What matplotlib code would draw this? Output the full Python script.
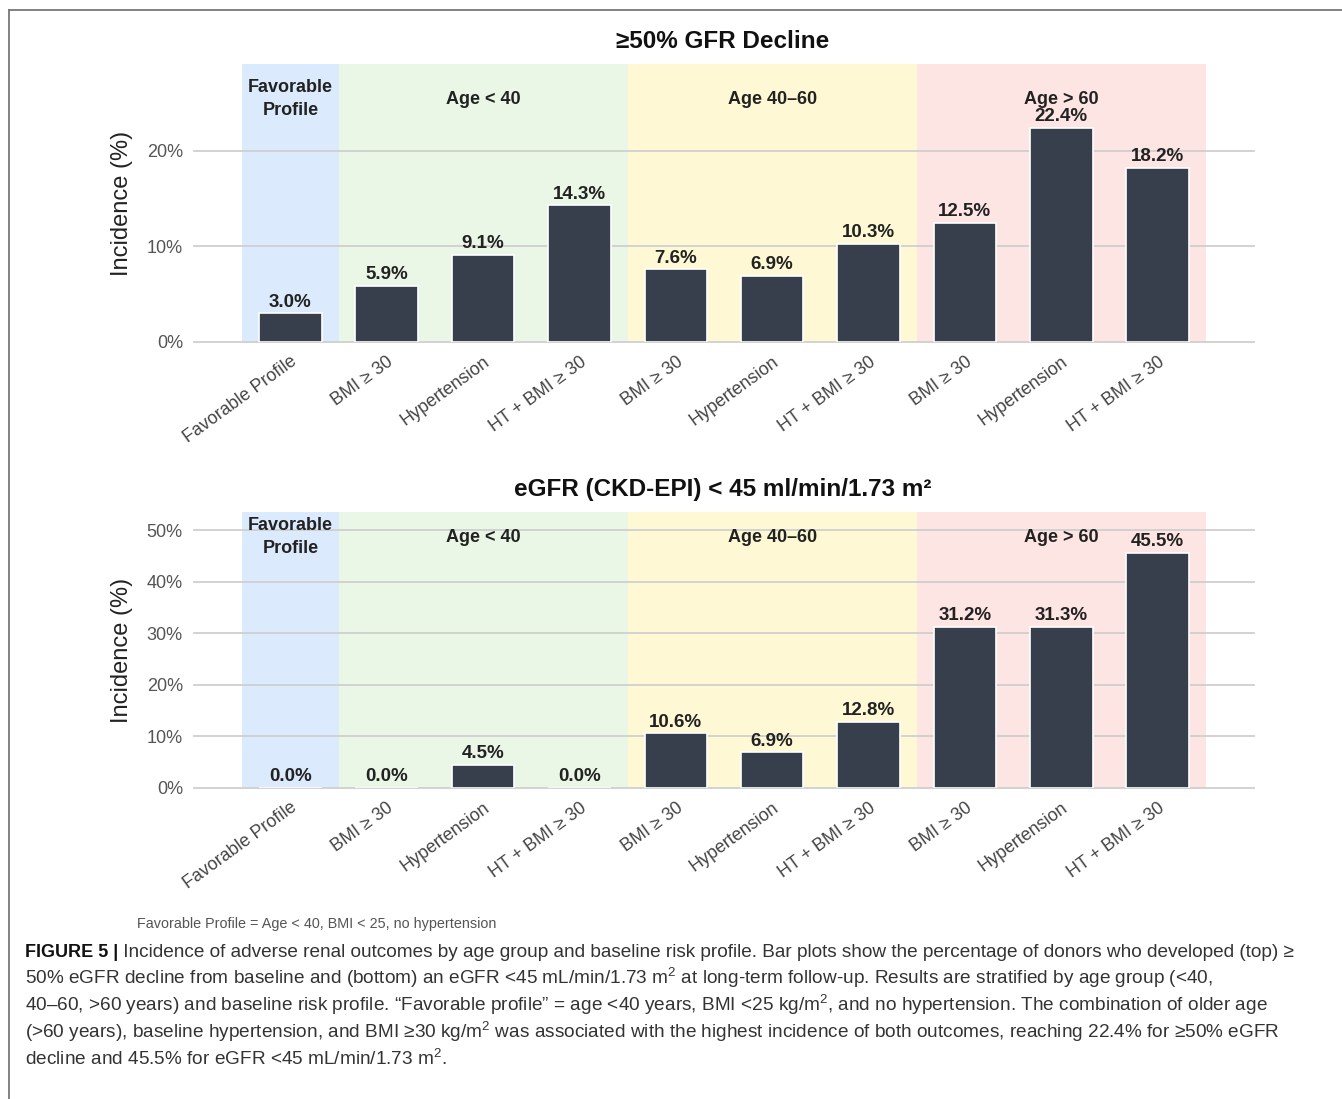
import matplotlib

matplotlib.use("Agg")
import matplotlib.pyplot as plt
from matplotlib.lines import Line2D

plt.rcParams["font.family"] = ["Liberation Sans", "DejaVu Sans"]
plt.rcParams["mathtext.fontset"] = "custom"
plt.rcParams["mathtext.rm"] = "Liberation Sans"
plt.rcParams["mathtext.it"] = "Liberation Sans:italic"
plt.rcParams["mathtext.bf"] = "Liberation Sans:bold"

# ---- data ---------------------------------------------------------------
categories = [
    "Favorable Profile",
    "BMI \u2265 30", "Hypertension", "HT + BMI \u2265 30",
    "BMI \u2265 30", "Hypertension", "HT + BMI \u2265 30",
    "BMI \u2265 30", "Hypertension", "HT + BMI \u2265 30",
]
group_names = ["Favorable\nProfile", "Age < 40", "Age 40\u201360", "Age > 60"]
group_sizes = [1, 3, 3, 3]
gfr_decline = [3.0, 5.9, 9.1, 14.3, 7.6, 6.9, 10.3, 12.5, 22.4, 18.2]
egfr_below45 = [0.0, 0.0, 4.5, 0.0, 10.6, 6.9, 12.8, 31.2, 31.3, 45.5]
top_ticks = [0, 10, 20]
bottom_ticks = [0, 10, 20, 30, 40, 50]

band_colors = ["#dbeafc", "#eaf6e6", "#fef9d4", "#fde5e3"]
bar_color = "#373f4c"

W, H = 1342, 1099
fig = plt.figure(figsize=(W / 100, H / 100), dpi=100)
fig.patch.set_facecolor("white")


def px_axes(x0, x1, y_top, y_bot):
    return fig.add_axes([x0 / W, 1 - y_bot / H, (x1 - x0) / W, (y_bot - y_top) / H])


def draw_panel(ax, values, ticks, ytop, label_frac):
    x = list(range(len(values)))
    ax.set_xlim(-1.0, 10.0)
    ax.set_ylim(0, ytop)

    start = 0
    for name, size, color in zip(group_names, group_sizes, band_colors):
        ax.axvspan(start - 0.5, start + size - 0.5, color=color, zorder=0, lw=0)
        ax.text(start + (size - 1) / 2, label_frac, name, transform=ax.get_xaxis_transform(),
                ha="center", va="center", fontsize=13, fontweight="bold",
                color="#222222", linespacing=1.45, zorder=4)
        start += size

    ax.set_yticks(ticks)
    ax.set_yticklabels([f"{t}%" for t in ticks])
    # grid sits above the shaded bands but under the bars
    ax.set_axisbelow(True)
    ax.yaxis.grid(True, color="#cfcfcf", lw=1.3)
    for gl in ax.get_ygridlines():
        gl.set_clip_on(False)

    ax.bar(x, values, width=0.65, color=bar_color, edgecolor="white", lw=1.2, zorder=2)
    for xi, v in zip(x, values):
        ax.annotate(f"{v:.1f}%", (xi, v), xytext=(0, 2), textcoords="offset points",
                    ha="center", va="bottom", fontsize=13.5, fontweight="bold",
                    color="#222222", zorder=5)

    ax.set_xticks(x)
    ax.set_xticklabels(categories, rotation=36, ha="right", rotation_mode="anchor",
                       fontsize=12.9, color="#444444")
    ax.tick_params(axis="both", length=0)
    ax.tick_params(axis="x", pad=8)
    ax.tick_params(axis="y", labelsize=13, labelcolor="#555555", pad=8)
    ax.set_ylabel("Incidence (%)", fontsize=17, color="#222222", labelpad=10)
    for s in ax.spines.values():
        s.set_visible(False)
    ax.set_facecolor("none")


ax_top = px_axes(194, 1254, 64, 342)
draw_panel(ax_top, gfr_decline, top_ticks, 29.1, 0.873)
ax_bot = px_axes(194, 1254, 512, 788)
draw_panel(ax_bot, egfr_below45, bottom_ticks, 53.5, 0.909)

fig.text(723 / W, 1 - 42 / H, "\u226550% GFR Decline", ha="center", va="center",
         fontsize=17.5, fontweight="bold", color="#111111")
fig.text(723 / W, 1 - 489 / H, "eGFR (CKD-EPI) < 45 ml/min/1.73 m\u00b2", ha="center",
         va="center", fontsize=17.5, fontweight="bold", color="#111111")

fig.text(137 / W, 1 - 924 / H, "Favorable Profile = Age < 40, BMI < 25, no hypertension",
         ha="left", va="center", fontsize=10.4, color="#555555")

# frame lines on top and left
fig.add_artist(Line2D([9 / W, 1], [1 - 10 / H] * 2, transform=fig.transFigure,
                      color="#777777", lw=1.3))
fig.add_artist(Line2D([9 / W] * 2, [0, 1 - 10 / H], transform=fig.transFigure,
                      color="#777777", lw=1.3))

# caption
caption_lines = [
    " Incidence of adverse renal outcomes by age group and baseline risk profile. "
    "Bar plots show the percentage of donors who developed (top) \u2265",
    "50% eGFR decline from baseline and (bottom) an eGFR <45 mL/min/1.73 m$^2$ at "
    "long-term follow-up. Results are stratified by age group (<40,",
    "40\u201360, >60 years) and baseline risk profile. \u201cFavorable profile\u201d = "
    "age <40 years, BMI <25 kg/m$^2$, and no hypertension. The combination of older age",
    "(>60 years), baseline hypertension, and BMI \u226530 kg/m$^2$ was associated with the "
    "highest incidence of both outcomes, reaching 22.4% for \u226550% eGFR",
    "decline and 45.5% for eGFR <45 mL/min/1.73 m$^2$.",
]
cap_y = [957, 984, 1011, 1038, 1065]
cap_size = 13.7
head = fig.text(25 / W, 1 - cap_y[0] / H, "FIGURE 5 |", ha="left", va="baseline",
                fontsize=13, fontweight="bold", color="#111111")
fig.add_artist(plt.Annotation(caption_lines[0], xy=(1, 0), xycoords=head, va="bottom",
                              ha="left", fontsize=cap_size, color="#333333"))
for line, y in zip(caption_lines[1:], cap_y[1:]):
    fig.text(25 / W, 1 - y / H, line, ha="left", va="baseline", fontsize=cap_size,
             color="#333333")

fig.savefig("out.png", dpi=100)
